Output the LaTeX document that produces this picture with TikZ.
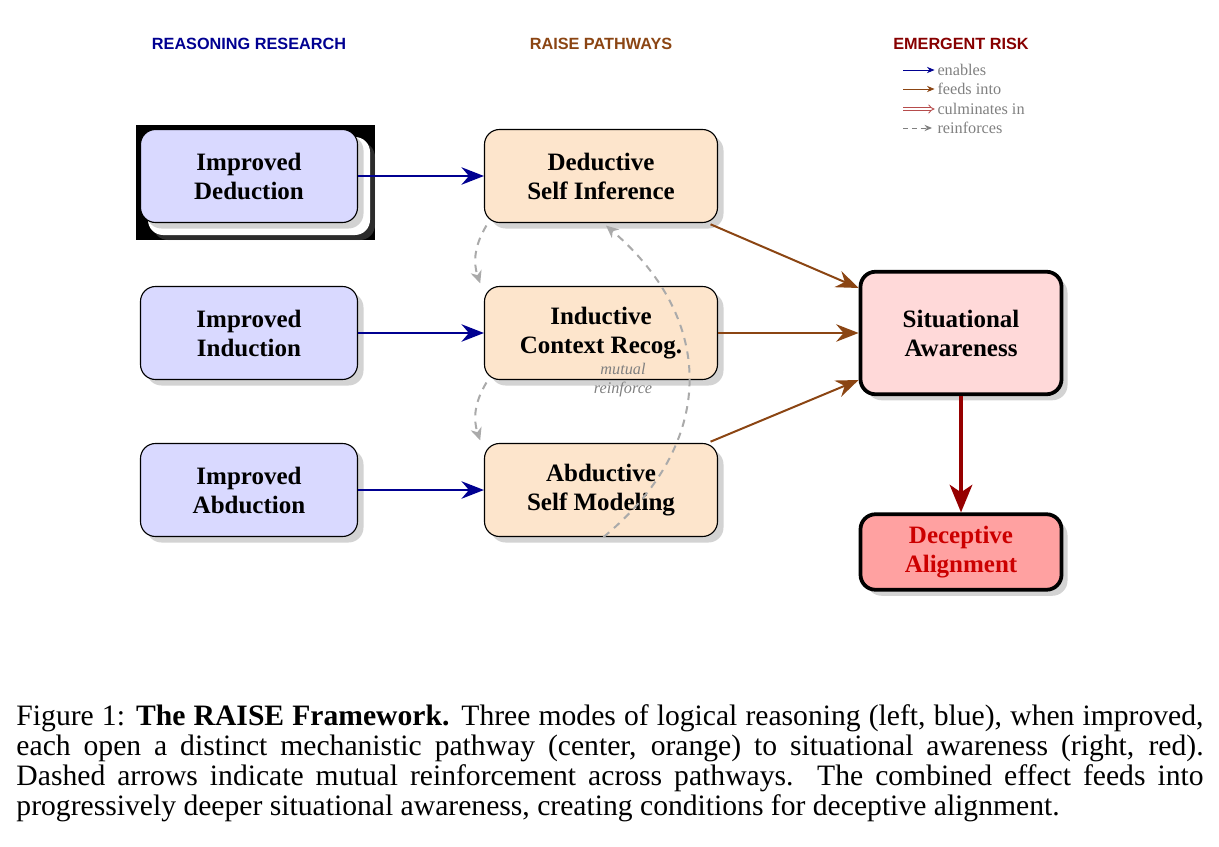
\documentclass[tikz,border=0pt]{standalone}
\usepackage{fontspec}
\setmainfont{Liberation Serif}
\setsansfont{Liberation Sans}
\usetikzlibrary{arrows.meta,shadows}
\definecolor{reasonfill}{RGB}{217,217,255}
\definecolor{pathfill}{RGB}{253,229,204}
\definecolor{awarefill}{RGB}{255,217,217}
\definecolor{deceptfill}{RGB}{255,161,161}
\definecolor{enablecol}{RGB}{0,0,145}
\definecolor{feedcol}{RGB}{139,69,19}
\definecolor{riskcol}{RGB}{150,0,0}
\definecolor{deceptext}{RGB}{204,0,0}
\definecolor{reinfcol}{RGB}{170,170,170}
\definecolor{legendgray}{RGB}{128,128,128}

\begin{document}
\begin{tikzpicture}[x=0.4pt,y=-0.4pt]
        \tikzset{box/.style={draw, rounded corners=6pt, align=center, inner sep=0pt,
                font=\fontsize{10}{11.6}\selectfont\bfseries,
                drop shadow={opacity=0.35, shadow xshift=2.4pt, shadow yshift=-2.4pt}},
            reason/.style={box, fill=reasonfill, line width=0.45pt, minimum width=86.8pt, minimum height=37.2pt},
            pathway/.style={box, fill=pathfill, line width=0.45pt, minimum width=93.2pt, minimum height=37.2pt},
            risk/.style={box, line width=1.5pt, minimum width=80.4pt},
            header/.style={font=\sffamily\bfseries\fontsize{6.5}{7}\selectfont},
            legend/.style={anchor=west, inner sep=0pt, text=legendgray, font=\fontsize{6.5}{7}\selectfont},
            enables/.style={draw=enablecol, line width=0.8pt, -{Stealth[length=9pt, width=7pt, inset=3pt]}},
            feeds/.style={draw=feedcol, line width=0.8pt, -{Stealth[length=9pt, width=7pt, inset=3pt]}},
            culminates/.style={draw=riskcol, line width=1.6pt, -{Stealth[length=11pt, width=9pt, inset=3pt]}},
            reinforces/.style={draw=reinfcol, line width=0.8pt, dash pattern=on 3pt off 2.5pt,
                -{Stealth[length=5pt, width=4.5pt, inset=1.5pt]}}}
        \useasboundingbox (0,0) rectangle (1219,846);

        \node[header, text=enablecol] (hreason) at (249,44) {REASONING RESEARCH};
        \node[header, text=feedcol] (hpath) at (601,44) {RAISE PATHWAYS};
        \node[header, text=riskcol!90!black] (hrisk) at (961,44) {EMERGENT RISK};

        % legend
        \node[legend] (lgenable) at (937,70) {enables};
        \node[legend] (lgfeed) at (937,89) {feeds into};
        \node[legend] (lgculm) at (937,109) {culminates in};
        \node[legend] (lgreinf) at (937,128) {reinforces};
        \draw[enablecol, line width=0.35pt, -{Stealth[length=3pt, width=2.5pt]}]
            ([xshift=-13.6pt]lgenable.west) -- ([xshift=-1pt]lgenable.west);
        \draw[feedcol, line width=0.35pt, -{Stealth[length=3pt, width=2.5pt]}]
            ([xshift=-13.6pt]lgfeed.west) -- ([xshift=-1pt]lgfeed.west);
        \draw[riskcol!70, line width=0.35pt, double, double distance=0.9pt, -Implies]
            ([xshift=-13.6pt]lgculm.west) -- ([xshift=-1pt]lgculm.west);
        \draw[legendgray, line width=0.35pt, dash pattern=on 2pt off 1.5pt, -{Stealth[length=3pt, width=2.5pt]}]
            ([xshift=-13.6pt]lgreinf.west) -- ([xshift=-2pt]lgreinf.west);

        \fill[black] (136,125) rectangle (375,240);
        \fill[white, rounded corners=6pt, drop shadow={opacity=0.35, shadow xshift=2pt, shadow yshift=-2pt}]
            (148,137) rectangle (370,235);

        \node[reason] (deduction) at (249,176) {Improved\\Deduction};
        \node[reason] (induction) at (249,333) {Improved\\Induction};
        \node[reason] (abduction) at (249,490) {Improved\\Abduction};

        \node[pathway] (selfinf) at (601,176) {Deductive\\Self Inference};
        \node[pathway] (context) at (601,333) {Inductive\\Context Recog.};
        \node[pathway] (selfmod) at (601,490) {Abductive\\Self Modeling};

        \node[risk, fill=awarefill, minimum height=49pt] (aware) at (961,333) {Situational\\Awareness};
        \node[risk, fill=deceptfill, minimum height=30.2pt, text=deceptext] (deceptive) at (961,552) {Deceptive\\Alignment};

        \draw[enables] (deduction) -- (selfinf);
        \draw[enables] (induction) -- (context);
        \draw[enables] (abduction) -- (selfmod);

        \draw[feeds] ([xshift=-3pt,yshift=-0.5pt]selfinf.south east) -- ([yshift=18pt]aware.west);
        \draw[feeds] (context) -- (aware);
        \draw[feeds] ([xshift=-3pt,yshift=0.5pt]selfmod.north east) -- ([yshift=-18.8pt]aware.west);
        \draw[culminates] (aware) -- (deceptive);

        \draw[reinforces] ([xshift=1pt,yshift=-1pt]selfinf.south west) to[bend right=25] ([xshift=-1.5pt,yshift=1pt]context.north west);
        \draw[reinforces] ([xshift=1pt,yshift=-1pt]context.south west) to[bend right=25] ([xshift=-1.5pt,yshift=1pt]selfmod.north west);
        \draw[reinforces] ([xshift=1pt]selfmod.south) to[bend right=50, looseness=1.2] ([xshift=2pt,yshift=-1pt]selfinf.south);
        \node[align=center, inner sep=0pt, text=legendgray, font=\fontsize{6.5}{7.6}\selectfont\itshape] (mutual) at (623,380) {mutual\\reinforce};

        \node[anchor=north west, text width=474.8pt, align=justify, inner sep=0pt,
            font=\fontsize{11.85}{12}\selectfont] (caption) at (16,704)
            {Figure 1: \textbf{The RAISE Framework.} Three modes of logical reasoning (left, blue), when improved,\linebreak
            each open a distinct mechanistic pathway (center, orange) to situational awareness (right, red).\linebreak
            Dashed arrows indicate mutual reinforcement across pathways.  The combined effect feeds into\linebreak
            progressively deeper situational awareness, creating conditions for deceptive alignment.};
    \end{tikzpicture}
\end{document}
